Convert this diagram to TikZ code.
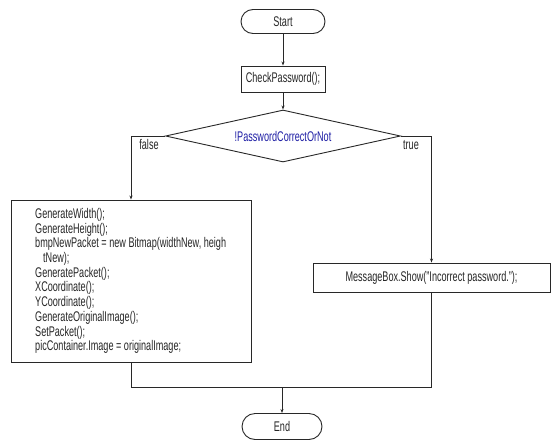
\documentclass[tikz,border=0pt]{standalone}
\usepackage{fontspec}
\setmainfont{Liberation Sans}[FakeStretch=0.65]
\usetikzlibrary{arrows.meta,shapes.geometric}

\definecolor{linegray}{RGB}{40,40,40}
\definecolor{condblue}{RGB}{30,30,165}

\tikzset{
  flowline/.style={draw=linegray, line width=0.9pt},
  arr/.style={flowline, -{Stealth[length=4pt,width=3pt]}},
  terminal/.style={draw=linegray, line width=0.9pt, rectangle, inner sep=0pt},
  procbox/.style={draw=linegray, line width=0.9pt, rectangle, inner sep=0pt},
  decision/.style={draw=linegray, line width=0.9pt, diamond, inner sep=0pt,
    shape aspect=4.5, text=condblue},
  branchlabel/.style={inner sep=0pt},
}

\begin{document}
\begin{tikzpicture}[x=1pt,y=-1pt, font=\fontsize{14}{14.7}\selectfont, text=black!85]
  \useasboundingbox[fill=white] (0,0) rectangle (551,442);

  % start / end terminals
  \node[terminal, minimum width=84, minimum height=24, rounded corners=12pt] (start) at (283,21.5) {Start};
  \node[procbox, minimum width=84, minimum height=26] (check) at (283,79) {CheckPassword();};

  % password test
  \node[decision, minimum width=235, minimum height=52] (dec) at (283,136) {!PasswordCorrectOrNot};

  % false branch: image generation steps
  \node[procbox, minimum width=240, minimum height=162] (work) at (131,281) {};
  \node[anchor=west, align=left, inner sep=0pt] (worktext) at (35,281) {%
    GenerateWidth();\\
    GenerateHeight();\\
    bmpNewPacket = new Bitmap(widthNew, heigh\\
    \hspace*{8pt}tNew);\\
    GeneratePacket();\\
    XCoordinate();\\
    YCoordinate();\\
    GenerateOriginalImage();\\
    SetPacket();\\
    picContainer.Image = originalImage;};

  % true branch: error message
  \node[procbox, minimum width=237, minimum height=29] (msg) at (431.5,277.5) {MessageBox.Show("Incorrect password.");};

  \node[terminal, minimum width=80, minimum height=26, rounded corners=13pt] (end) at (282,426.5) {End};

  \coordinate (merge) at (282,387);

  % connectors
  \draw[arr] (start) -- (check);
  \draw[arr] (check) -- (dec.north);
  \draw[arr] (dec.west) -| (work.north);
  \draw[arr] (dec.east) -| (msg.north);
  \draw[flowline] (work.south) |- (merge);
  \draw[flowline] (msg.south) |- (merge);
  \draw[arr] (merge) -- (end);

  % branch labels
  \node[branchlabel] (falselbl) at (149,144) {false};
  \node[branchlabel] (truelbl) at (411,145) {true};
\end{tikzpicture}
\end{document}
